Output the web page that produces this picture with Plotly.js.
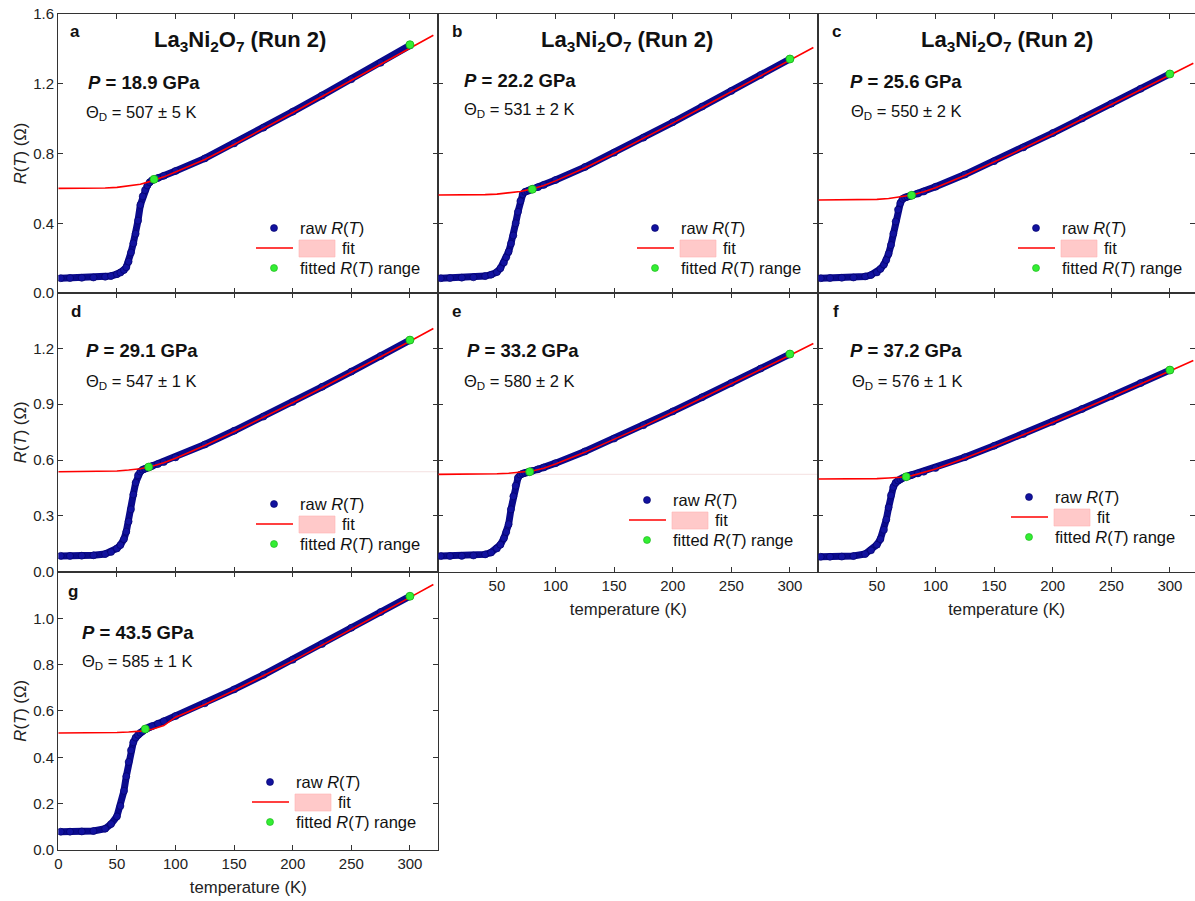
<!DOCTYPE html>
<html><head><meta charset="utf-8">
<script src="https://cdn.plot.ly/plotly-3.0.1.min.js"></script>
<style>html,body{margin:0;padding:0;background:#fff}#chart{width:1195px;height:901px}</style>
</head><body><div id="chart"></div>
<script>
// ---------------- data ----------------
const panelLetters = ['a','b','c','d','e','f','g'];
const pressures = ['18.9','22.2','25.6','29.1','33.2','37.2','43.5'];
const thetaD = ['507 ± 5','531 ± 2','550 ± 2','547 ± 1','580 ± 2','576 ± 1','585 ± 1'];

const T_raw = [2,10,20,30,40,45,50,53,56,58,60,62,64,66,68,70,72,74,76,78,80,85,90,100,125,150,175,200,225,250,275,300];
const R_a = [0.085,0.086,0.087,0.089,0.093,0.098,0.108,0.117,0.132,0.148,0.18,0.232,0.285,0.34,0.415,0.505,0.555,0.59,0.617,0.635,0.646,0.66,0.672,0.70,0.772,0.858,0.948,1.04,1.133,1.226,1.32,1.42];
const R_b = [0.085,0.086,0.088,0.090,0.097,0.105,0.12,0.142,0.175,0.205,0.237,0.283,0.33,0.40,0.466,0.527,0.566,0.58,0.585,0.59,0.595,0.607,0.62,0.648,0.722,0.805,0.891,0.979,1.069,1.159,1.25,1.342];
const R_c = [0.085,0.086,0.087,0.089,0.095,0.103,0.118,0.138,0.163,0.189,0.225,0.275,0.34,0.41,0.478,0.516,0.54,0.548,0.552,0.556,0.56,0.57,0.582,0.609,0.679,0.756,0.835,0.917,1.001,1.086,1.171,1.256];
const R_d = [0.085,0.085,0.086,0.088,0.095,0.106,0.125,0.143,0.175,0.215,0.27,0.335,0.415,0.478,0.518,0.538,0.548,0.553,0.558,0.563,0.568,0.578,0.589,0.614,0.683,0.757,0.833,0.912,0.993,1.075,1.159,1.244];
const R_e = [0.084,0.084,0.085,0.087,0.093,0.103,0.125,0.145,0.18,0.213,0.255,0.335,0.405,0.462,0.505,0.521,0.527,0.531,0.534,0.537,0.541,0.55,0.56,0.583,0.646,0.715,0.787,0.861,0.937,1.014,1.091,1.169];
const R_f = [0.08,0.08,0.081,0.084,0.095,0.115,0.145,0.175,0.225,0.28,0.345,0.41,0.455,0.478,0.49,0.497,0.503,0.508,0.512,0.516,0.52,0.528,0.537,0.557,0.615,0.676,0.74,0.806,0.874,0.943,1.013,1.083];
const R_g = [0.079,0.079,0.08,0.082,0.092,0.112,0.145,0.19,0.255,0.318,0.38,0.43,0.465,0.485,0.497,0.506,0.513,0.52,0.526,0.531,0.535,0.545,0.556,0.578,0.633,0.693,0.756,0.821,0.889,0.959,1.027,1.095];

const T_fit = [0,20,40,50,60,70,80,90,100,125,150,175,200,225,250,275,300,320];
const F_a = [0.600,0.600,0.602,0.606,0.613,0.624,0.643,0.666,0.694,0.766,0.852,0.942,1.034,1.127,1.22,1.313,1.408,1.478];
const F_b = [0.562,0.562,0.564,0.567,0.573,0.582,0.597,0.617,0.643,0.717,0.8,0.886,0.974,1.064,1.154,1.245,1.336,1.408];
const F_c = [0.533,0.533,0.535,0.537,0.542,0.55,0.562,0.58,0.604,0.674,0.751,0.83,0.912,0.996,1.081,1.166,1.25,1.318];
const F_d = [0.537,0.537,0.539,0.541,0.546,0.553,0.566,0.585,0.609,0.678,0.752,0.828,0.907,0.988,1.07,1.154,1.238,1.306];
const F_e = [0.523,0.523,0.524,0.526,0.529,0.533,0.541,0.556,0.578,0.641,0.71,0.782,0.856,0.932,1.009,1.086,1.163,1.226];
const F_f = [0.498,0.498,0.499,0.5,0.503,0.507,0.516,0.532,0.552,0.61,0.671,0.735,0.801,0.869,0.938,1.008,1.078,1.134];
const F_g = [0.505,0.505,0.506,0.507,0.509,0.513,0.521,0.537,0.573,0.628,0.688,0.751,0.816,0.884,0.954,1.022,1.09,1.146];

const rangeT_a = [81.7,300], rangeR_a = [0.652,1.424];
const rangeT_b = [80.2,300], rangeR_b = [0.595,1.342];
const rangeT_c = [79.6,300], rangeR_c = [0.56,1.256];
const rangeT_d = [77.1,300], rangeR_d = [0.562,1.244];
const rangeT_e = [78,300],   rangeR_e = [0.537,1.169];
const rangeT_f = [75,300],   rangeR_f = [0.51,1.083];
const rangeT_g = [74.2,300], rangeR_g = [0.522,1.095];

// faint horizontal residual lines seen in panels d and e (level of the fit plateau)
const faintT = [0,324];
const faintR_d = [0.537,0.537];
const faintR_e = [0.523,0.523];

const rowTicks = [[0,0.4,0.8,1.2,1.6],[0,0.3,0.6,0.9,1.2],[0,0.2,0.4,0.6,0.8,1.0]];
const xTicks = [0,50,100,150,200,250,300];
const xTicksNoZero = [50,100,150,200,250,300];

// ---------------- layout geometry ----------------
const W = 1195, H = 901;
const colX = [[58.3,438.3],[438.3,818.3],[818.3,1195]];
const rowY = [[14,293],[293,571.7],[571.7,850]];
const yMax = [1.6,1.497,1.201];
const grid = [[0,0],[1,0],[2,0],[0,1],[1,1],[2,1],[0,2]]; // [col,row]
const rawSets = [R_a,R_b,R_c,R_d,R_e,R_f,R_g];
const fitSets = [F_a,F_b,F_c,F_d,F_e,F_f,F_g];
const rngT = [rangeT_a,rangeT_b,rangeT_c,rangeT_d,rangeT_e,rangeT_f,rangeT_g];
const rngR = [rangeR_a,rangeR_b,rangeR_c,rangeR_d,rangeR_e,rangeR_f,rangeR_g];
const faintSets = {3: faintR_d, 4: faintR_e};

const FONT = 'Liberation Sans, Arial, Helvetica, sans-serif';
const px = x => x / W, py = y => 1 - y / H;

const traces = [];
const layout = {
  width: W, height: H, showlegend: false,
  margin: {l:0, r:0, t:0, b:0},
  paper_bgcolor: '#fff', plot_bgcolor: 'rgba(0,0,0,0)',
  font: {family: FONT, size: 15, color: '#111'},
  annotations: [], shapes: []
};

for (let i = 0; i < 7; i++) {
  const [c, r] = grid[i];
  const xs = i === 0 ? 'x' : 'x' + (i + 1);
  const ys = i === 0 ? 'y' : 'y' + (i + 1);
  if (faintSets[i]) {
    traces.push({
      x: faintT, y: faintSets[i], xaxis: xs, yaxis: ys, mode: 'lines', name: 'residual line',
      line: {color: 'rgba(235,200,200,0.55)', width: 1}, hoverinfo: 'skip'
    });
  }
  traces.push({
    x: T_raw, y: rawSets[i], xaxis: xs, yaxis: ys, mode: 'lines+markers', name: 'raw R(T)',
    line: {color: '#0a0a8c', width: 7},
    marker: {size: 7, color: '#12129e', line: {color: '#000066', width: 0.6}},
    hoverinfo: 'x+y'
  });
  traces.push({
    x: T_fit, y: fitSets[i], xaxis: xs, yaxis: ys, mode: 'lines', name: 'fit',
    line: {color: '#ff0000', width: 1.6}
  });
  traces.push({
    x: rngT[i], y: rngR[i], xaxis: xs, yaxis: ys, mode: 'markers', name: 'fitted R(T) range',
    marker: {size: 8, color: '#33ee33', line: {color: '#18b018', width: 0.8}}
  });

  const xRange = c === 2 ? (colX[2][1] - colX[2][0]) / 1.172 : 324.2;
  const showX = (i === 4 || i === 5 || i === 6);
  const xa = {
    domain: [px(colX[c][0]), px(colX[c][1])], range: [0, xRange],
    anchor: ys, showline: true, mirror: 'ticks', linecolor: '#333', linewidth: 1.3,
    ticks: 'inside', ticklen: 5, tickwidth: 1.2, tickcolor: '#333',
    tickvals: (i === 4 || i === 5) ? xTicksNoZero : xTicks,
    showticklabels: showX, tickfont: {size: 15, family: FONT, color: '#222'},
    showgrid: false, zeroline: false
  };
  if (showX) xa.title = {text: 'temperature (K)', font: {size: 16.7, family: FONT, color: '#222'}, standoff: 10};
  const ya = {
    domain: [py(rowY[r][1]), py(rowY[r][0])], range: [0, yMax[r]],
    anchor: xs, showline: true, mirror: 'ticks', linecolor: '#333', linewidth: 1.3,
    ticks: 'inside', ticklen: 5, tickwidth: 1.2, tickcolor: '#333',
    tickvals: rowTicks[r], tickformat: '.1f',
    showticklabels: c === 0, tickfont: {size: 15, family: FONT, color: '#222'},
    showgrid: false, zeroline: false
  };
  if (c === 0) ya.title = {text: '<i>R</i>(<i>T</i>) (Ω)', font: {size: 16.7, family: FONT, color: '#222'}, standoff: 2};
  layout[i === 0 ? 'xaxis' : 'xaxis' + (i + 1)] = xa;
  layout[i === 0 ? 'yaxis' : 'yaxis' + (i + 1)] = ya;
}

// ---------------- text labels ----------------
const letterPos = [[75,32],[457,32],[836,32],[76,311],[456,311],[836,311],[73,591]];
const pPos = [[86,83],[462,80],[848,82],[84,350],[465,350],[848,350],[80,632]];
const thPos = [[84,113],[462,110],[849,112],[84,382],[462,382],[850,382],[80,662]];
const titleCenters = [[240,41],[627,41],[1007,41]];
const legendPos = [[274,228],[655,228],[1036,228],[274,504],[647,500],[1029,497],[270,782]];

function ann(x, y, text, size, anchor) {
  layout.annotations.push({
    xref: 'paper', yref: 'paper', x: px(x), y: py(y), text: text, showarrow: false,
    xanchor: anchor || 'left', yanchor: 'middle',
    font: {family: FONT, size: size, color: '#111'}
  });
}

titleCenters.forEach(p => ann(p[0], p[1], '<b>La<sub>3</sub>Ni<sub>2</sub>O<sub>7</sub> (Run 2)</b>', 22, 'center'));
for (let i = 0; i < 7; i++) {
  ann(letterPos[i][0], letterPos[i][1], '<b>' + panelLetters[i] + '</b>', 17, 'center');
  ann(pPos[i][0], pPos[i][1], '<b><i>P</i> = ' + pressures[i] + ' GPa</b>', 18.5, 'left');
  ann(thPos[i][0], thPos[i][1], 'Θ<sub>D</sub> = ' + thetaD[i] + ' K', 16.5, 'left');

  const [dx, y] = legendPos[i];
  layout.shapes.push({type: 'circle', xref: 'paper', yref: 'paper',
    x0: px(dx - 3.5), x1: px(dx + 3.5), y0: py(y + 3.5), y1: py(y - 3.5),
    fillcolor: '#12129e', line: {color: '#000066', width: 0.6}});
  layout.shapes.push({type: 'line', xref: 'paper', yref: 'paper',
    x0: px(dx - 18), x1: px(dx + 19), y0: py(y + 20), y1: py(y + 20),
    line: {color: '#ff0000', width: 1.6}});
  layout.shapes.push({type: 'rect', xref: 'paper', yref: 'paper',
    x0: px(dx + 25), x1: px(dx + 61), y0: py(y + 29), y1: py(y + 12),
    fillcolor: '#ffc9c9', line: {color: '#ffb4b4', width: 0.6}});
  layout.shapes.push({type: 'circle', xref: 'paper', yref: 'paper',
    x0: px(dx - 3.5), x1: px(dx + 3.5), y0: py(y + 43.5), y1: py(y + 36.5),
    fillcolor: '#33ee33', line: {color: '#18b018', width: 0.6}});
  ann(dx + 24, y, 'raw <i>R</i>(<i>T</i>)', 16.5, 'left');
  ann(dx + 66, y + 20, 'fit', 16.5, 'left');
  ann(dx + 24, y + 40, 'fitted <i>R</i>(<i>T</i>) range', 16.5, 'left');
}

Plotly.newPlot('chart', traces, layout, {displayModeBar: false});
</script></body></html>
